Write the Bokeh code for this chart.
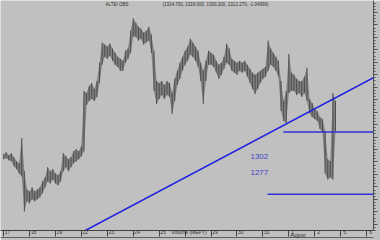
from bokeh.plotting import figure
from bokeh.models import Range1d, LinearAxis, FixedTicker, Label, SingleIntervalTicker
from bokeh.embed import file_html
from bokeh.resources import INLINE

# ---- data ----
day_labels = ["17", "18", "19", "22", "23", "24", "25", "26", "29", "30", "31", "1", "2", "5", "6"]
month_label = "August"
month_pos = 11.2

bar_high = [1293.1, 1293.9, 1292.7, 1293.5, 1291.9, 1290.3, 1289.5, 1299.6, 1286.3, 1279.0,
            1278.2, 1279.8, 1278.2, 1279.0, 1279.8, 1282.2, 1283.8, 1287.9, 1286.3, 1287.1,
            1285.4, 1284.7, 1286.3, 1293.5, 1292.3, 1291.1, 1291.9, 1294.3, 1295.1, 1294.3,
            1296.3, 1318.5, 1317.7, 1320.5, 1321.7, 1319.3, 1322.5, 1329.8, 1337.9, 1337.1,
            1336.3, 1337.5, 1335.5, 1333.8, 1332.2, 1331.4, 1330.6, 1334.6, 1335.5, 1342.7,
            1347.6, 1345.9, 1344.3, 1343.5, 1341.9, 1342.7, 1344.3, 1341.1, 1334.6, 1322.5,
            1321.7, 1322.5, 1320.9, 1322.5, 1321.7, 1317.7, 1323.4, 1326.6, 1329.8, 1332.2,
            1334.6, 1336.3, 1339.5, 1337.9, 1336.3, 1334.6, 1329.8, 1326.6, 1330.6, 1334.6,
            1333.8, 1333.0, 1330.6, 1329.0, 1329.8, 1332.2, 1337.5, 1335.5, 1331.4, 1330.6,
            1329.8, 1330.6, 1329.8, 1330.6, 1329.0, 1327.4, 1325.8, 1325.0, 1325.8, 1326.6,
            1327.4, 1328.2, 1338.7, 1335.5, 1333.8, 1332.2, 1330.6, 1322.5, 1314.5, 1318.5,
            1333.4, 1325.8, 1325.0, 1323.4, 1322.5, 1322.5, 1324.2, 1327.8, 1315.3, 1313.7,
            1311.3, 1310.4, 1308.0, 1307.2, 1302.4, 1291.1, 1290.3, 1317.7, 1314.5]
bar_low = [1291.1, 1291.5, 1290.7, 1290.3, 1288.3, 1287.1, 1285.4, 1284.2, 1270.1, 1274.2,
           1273.4, 1275.0, 1274.2, 1275.0, 1275.8, 1277.4, 1279.8, 1282.2, 1281.4, 1283.0,
           1281.4, 1280.6, 1282.2, 1286.3, 1287.9, 1286.3, 1287.9, 1289.5, 1290.3, 1291.1,
           1292.3, 1294.3, 1312.9, 1314.5, 1315.3, 1314.5, 1316.1, 1321.7, 1329.0, 1332.2,
           1331.4, 1332.6, 1330.6, 1329.0, 1328.2, 1326.6, 1326.6, 1329.8, 1331.4, 1333.8,
           1340.3, 1340.3, 1338.7, 1339.5, 1337.1, 1337.9, 1338.7, 1333.8, 1318.5, 1313.3,
           1315.3, 1316.9, 1315.3, 1316.9, 1316.1, 1309.2, 1314.5, 1320.9, 1323.4, 1326.6,
           1329.0, 1330.6, 1333.0, 1332.2, 1330.6, 1328.2, 1322.5, 1313.3, 1322.5, 1329.0,
           1329.0, 1328.2, 1325.8, 1323.4, 1325.0, 1327.4, 1329.8, 1329.0, 1326.6, 1325.8,
           1325.0, 1326.6, 1325.8, 1326.6, 1324.2, 1321.7, 1319.3, 1317.3, 1319.3, 1321.7,
           1323.4, 1324.2, 1326.6, 1329.0, 1328.2, 1326.6, 1324.2, 1310.4, 1306.4, 1305.6,
           1317.7, 1318.5, 1318.5, 1316.9, 1317.7, 1316.1, 1317.7, 1314.5, 1309.6, 1308.0,
           1307.2, 1306.4, 1303.2, 1301.6, 1285.4, 1283.0, 1283.8, 1283.0, 1302.4]
bars_per_day = 10
session_start = -0.15

trend_t = [2.93, 14.385]
trend_p = [1262.1, 1325.3]

level_values = [1302, 1277]
level_start = [10.64, 10.03]
level_end = [14.115, 14.115]
level_text = ["1302", "1277"]

header_name = "ALTEI OBS"
header_values = "(1314.700, 1318.000, 1300.200, 1312.270, -1.04999)"
volume_text = "Volume (MEPT)"
volume_day = 7  # the study caption covers this day's label

# ---- chart ----
bar_t = [session_start + i / bars_per_day for i in range(len(bar_high))]

BG = "#c0c0c0"
p = figure(width=380, height=240, output_backend="svg", toolbar_location=None,
           x_range=Range1d(-0.27, 14.115), y_range=Range1d(1262.5, 1354.8),
           x_axis_location=None, y_axis_location=None, title=None,
           min_border_left=0, min_border_top=0, min_border_right=7, min_border_bottom=0,
           background_fill_color=BG, border_fill_color=BG, outline_line_color=None)
p.grid.visible = False

yaxis = LinearAxis(ticker=SingleIntervalTicker(interval=5, num_minor_ticks=4),
                   axis_line_color="#505050", major_tick_line_color="#505050",
                   minor_tick_line_color="#505050", major_tick_out=4, major_tick_in=0,
                   minor_tick_out=2, minor_tick_in=0, major_label_text_font_size="0px",
                   major_label_text_color=None, major_label_standoff=0)
p.add_layout(yaxis, "right")

day_ticks = list(range(len(day_labels)))
overrides = {d: lbl for d, lbl in zip(day_ticks, day_labels)}
overrides[volume_day] = volume_text
xaxis = LinearAxis(ticker=FixedTicker(ticks=day_ticks, minor_ticks=[d + session_start for d in day_ticks]),
                   major_label_overrides=overrides,
                   axis_line_color="#404040", major_tick_out=0, major_tick_in=0,
                   minor_tick_out=6, minor_tick_in=0, minor_tick_line_color="#404040",
                   major_label_text_font_size="5px", major_label_text_color="#303030",
                   major_label_text_font="Liberation Sans", major_label_standoff=-8)
p.add_layout(xaxis, "below")

maxis = LinearAxis(ticker=FixedTicker(ticks=[month_pos]),
                   major_label_overrides={month_pos: month_label},
                   axis_line_color="#606060", major_tick_out=0, major_tick_in=0,
                   minor_tick_out=0, minor_tick_in=0,
                   major_label_text_font_size="5px", major_label_text_color="#303030",
                   major_label_text_font="Liberation Sans", major_label_standoff=-6)
p.add_layout(maxis, "below")

p.varea(x=bar_t, y1=bar_low, y2=bar_high, fill_color="#808080")
p.segment(x0=bar_t, y0=bar_low, x1=bar_t, y1=bar_high, line_color="#4e4e4e", line_width=1)

p.line(trend_t, trend_p, line_color="#2020e0", line_width=1.5)
p.segment(x0=level_start, y0=level_values, x1=level_end, y1=level_values,
          line_color="#3030d8", line_width=1.5)

for txt, yy in zip(level_text, [1292.3, 1285.9]):
    p.add_layout(Label(x=9.37, y=yy, text=txt, text_font="Liberation Sans",
                       text_font_size="8px", text_color="#4040c8", text_baseline="middle"))

p.add_layout(Label(x=3.78, y=1353.3, text=header_name, text_font="Liberation Sans",
                   text_font_size="4.5px", text_color="#303030", text_baseline="middle"))
p.add_layout(Label(x=5.98, y=1353.3, text=header_values, text_font="Liberation Sans",
                   text_font_size="4.5px", text_color="#303030", text_baseline="middle"))

open("out.html", "w").write(file_html(p, INLINE))
